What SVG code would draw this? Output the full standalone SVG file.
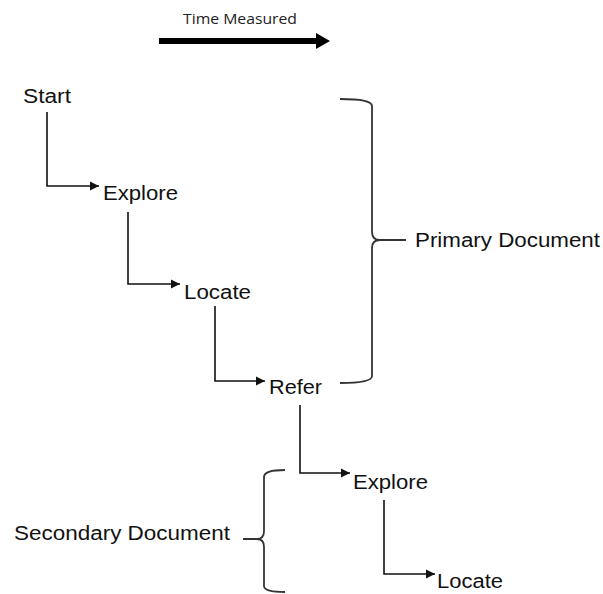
<svg xmlns="http://www.w3.org/2000/svg" width="603" height="594" viewBox="0 0 603 594">
<style>
.lbl{font-family:"Liberation Sans",Arial,sans-serif;font-size:20px;fill:#111}
.conn{fill:none;stroke:#111;stroke-width:1.6}
.brace{fill:none;stroke:#333;stroke-width:1.8}
</style>
<defs>
<marker id="ah" markerWidth="10" markerHeight="10" refX="9" refY="5" orient="auto" markerUnits="userSpaceOnUse">
<path d="M0,0.5 L9,5 L0,9.5 Z" fill="#111"/>
</marker>
</defs>
<rect width="603" height="594" fill="#fff"/>
<g id="time">
<text x="183" y="24" font-family="'Open Sans','Liberation Sans',sans-serif" font-size="15" fill="#222" textLength="114" lengthAdjust="spacingAndGlyphs">Time Measured</text>
<line x1="159" y1="41" x2="318" y2="41" stroke="#000" stroke-width="6"/>
<path d="M316,33 L330,41 L316,49 Z" fill="#000"/>
</g>
<g id="start"><text class="lbl" x="23" y="103" textLength="48" lengthAdjust="spacingAndGlyphs">Start</text></g>
<g id="explore1"><text class="lbl" x="103" y="200" textLength="75" lengthAdjust="spacingAndGlyphs">Explore</text></g>
<g id="locate1"><text class="lbl" x="184" y="299" textLength="67" lengthAdjust="spacingAndGlyphs">Locate</text></g>
<g id="refer"><text class="lbl" x="269" y="394" textLength="53" lengthAdjust="spacingAndGlyphs">Refer</text></g>
<g id="explore2"><text class="lbl" x="353" y="489" textLength="75" lengthAdjust="spacingAndGlyphs">Explore</text></g>
<g id="locate2"><text class="lbl" x="437" y="588" textLength="66" lengthAdjust="spacingAndGlyphs">Locate</text></g>
<g id="primary">
<path class="brace" d="M340,99 Q372,99 372,106 L372,232 Q372,240 380,240 L406,240 M380,240 Q372,240 372,248 L372,376 Q372,383 340,383"/>
<text class="lbl" x="415" y="247" textLength="185" lengthAdjust="spacingAndGlyphs">Primary Document</text>
</g>
<g id="secondary">
<path class="brace" d="M285,470 Q264,470 264,477 L264,531 Q264,539 257,539 L243,539 M257,539 Q264,539 264,547 L264,586 Q264,592 285,592"/>
<text class="lbl" x="14" y="540" textLength="216" lengthAdjust="spacingAndGlyphs">Secondary Document</text>
</g>
<g id="connectors">
<path class="conn" d="M47,112 L47,186 L99,186" marker-end="url(#ah)"/>
<path class="conn" d="M128,212 L128,284 L180,284" marker-end="url(#ah)"/>
<path class="conn" d="M215,306 L215,381 L265,381" marker-end="url(#ah)"/>
<path class="conn" d="M300,405 L300,473 L350,473" marker-end="url(#ah)"/>
<path class="conn" d="M384,500 L384,574 L435,574" marker-end="url(#ah)"/>
</g>
</svg>
